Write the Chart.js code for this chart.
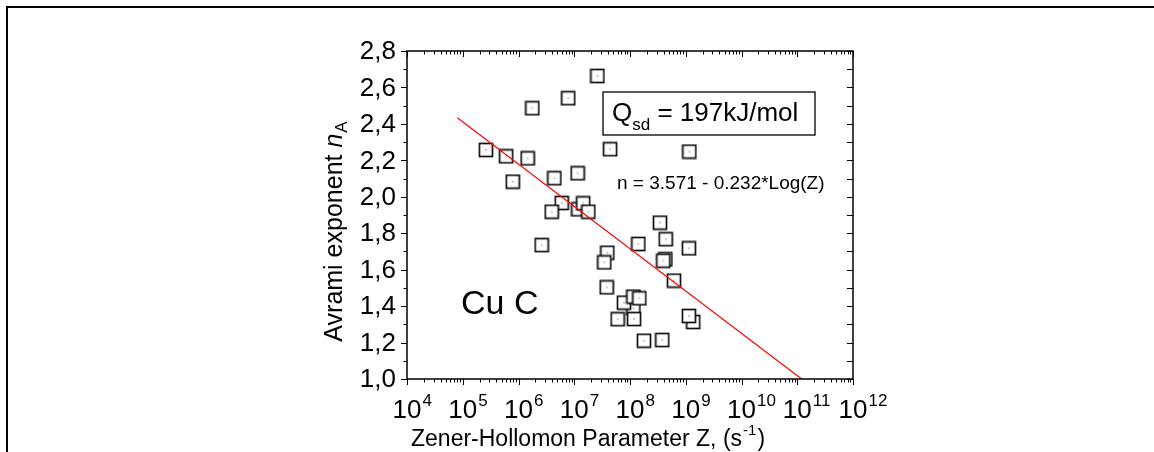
<!DOCTYPE html>
<html>
<head>
<meta charset="utf-8">
<script src="https://cdn.jsdelivr.net/npm/chart.js@4.4.0/dist/chart.umd.min.js"></script>
<style>
    html, body { margin: 0; padding: 0; background: #fff; }
    #wrap { position: relative; width: 1154px; height: 452px; overflow: hidden; }
    #frame { position: absolute; left: 6px; top: 6px; right: -10px; bottom: -10px; border-top: 2px solid #000; border-left: 2px solid #000; }
    canvas { position: absolute; left: 0; top: 0; }
</style>
</head>
<body>
<div id="wrap"><div id="frame"></div><canvas id="c" width="1154" height="452"></canvas></div>
<script>
// ── Data (Cu C, Avrami exponent vs Zener-Hollomon parameter) ─────────────────
const zValues = [
    2.6e5, 6.0e5, 7.9e5, 1.46e6, 1.77e6, 7.8e6, 2.6e7, 4.4e7, 1.16e9,
    4.4e6, 1.15e7, 5.96e6, 3.94e6, 1.18e7, 1.45e7, 1.79e7, 2.6e6,
    3.45e8, 4.37e8, 1.41e8, 1.14e9, 3.92e7, 3.46e7, 4.3e8, 3.95e8,
    6.15e8, 3.82e7, 1.15e8, 7.8e7, 1.15e8, 1.47e8, 6.0e7, 1.18e8,
    1.36e9, 1.14e9, 1.78e8, 3.79e8
];
const nValues = [
    2.257, 2.222, 2.083, 2.211, 2.486, 2.541, 2.663, 2.261, 2.248,
    2.102, 2.129, 1.966, 1.918, 1.931, 1.964, 1.918, 1.735,
    1.858, 1.767, 1.741, 1.717, 1.693, 1.640, 1.657, 1.649,
    1.540, 1.503, 1.388, 1.419, 1.452, 1.443, 1.328, 1.329,
    1.313, 1.346, 1.210, 1.214
];

// fit n = 3.571 - 0.232*Log(Z), end points as drawn
const fitZ = [8.0e4, 1.2e11];
const fitN = [2.434, 1.0];

const xDecades = [4, 5, 6, 7, 8, 9, 10, 11, 12];
const yMajorTicks = [1.0, 1.2, 1.4, 1.6, 1.8, 2.0, 2.2, 2.4, 2.6, 2.8];
const yMinorTicks = [1.1, 1.3, 1.5, 1.7, 1.9, 2.1, 2.3, 2.5, 2.7];
const yTickLabels = ['1,0', '1,2', '1,4', '1,6', '1,8', '2,0', '2,2', '2,4', '2,6', '2,8'];

const FONT = '"Liberation Sans", Arial, sans-serif';

// ── Square marker with centre dot ────────────────────────────────────────────
function makeMarker() {
    const c = document.createElement('canvas');
    c.width = 16; c.height = 16;
    const g = c.getContext('2d');
    g.fillStyle = '#fff';
    g.fillRect(1, 1, 14, 14);
    g.strokeStyle = '#111';
    g.lineWidth = 1.7;
    g.strokeRect(1.5, 1.5, 13, 13);
    g.fillStyle = '#333';
    g.fillRect(7.5, 7.5, 1, 1);
    return c;
}

// ── Axes, ticks and text drawn Origin-style ──────────────────────────────────
const originAxes = {
    id: 'originAxes',
    afterDraw(chart) {
        const { ctx, chartArea: a, scales: { x, y } } = chart;
        ctx.save();
        ctx.strokeStyle = '#000';
        ctx.lineWidth = 1;
        ctx.beginPath();
        xDecades.forEach((e, i) => {
            const px = Math.round(x.getPixelForValue(10 ** e)) + 0.5;
            ctx.moveTo(px, a.bottom); ctx.lineTo(px, a.bottom + 6);
            ctx.moveTo(px, a.top); ctx.lineTo(px, a.top + 6);
            if (i < xDecades.length - 1) {
                for (let m = 2; m <= 9; m++) {
                    const mx = Math.round(x.getPixelForValue(m * 10 ** e)) + 0.5;
                    ctx.moveTo(mx, a.bottom); ctx.lineTo(mx, a.bottom + 3.5);
                    ctx.moveTo(mx, a.top); ctx.lineTo(mx, a.top + 3.5);
                }
            }
        });
        yMajorTicks.forEach(v => {
            const py = Math.round(y.getPixelForValue(v)) + 0.5;
            ctx.moveTo(a.left, py); ctx.lineTo(a.left - 6, py);
            ctx.moveTo(a.right, py); ctx.lineTo(a.right - 6, py);
        });
        yMinorTicks.forEach(v => {
            const py = Math.round(y.getPixelForValue(v)) + 0.5;
            ctx.moveTo(a.left, py); ctx.lineTo(a.left - 3.5, py);
            ctx.moveTo(a.right, py); ctx.lineTo(a.right - 6, py);
        });
        ctx.stroke();

        ctx.lineWidth = 1.5;
        ctx.strokeRect(a.left, a.top, a.right - a.left, a.bottom - a.top);

        ctx.fillStyle = '#000';
        // y tick labels
        ctx.font = `26px ${FONT}`;
        ctx.textAlign = 'right';
        ctx.textBaseline = 'middle';
        yMajorTicks.forEach((v, i) => {
            ctx.fillText(yTickLabels[i], a.left - 11, y.getPixelForValue(v) + 1);
        });
        // x tick labels 10^n
        ctx.textBaseline = 'alphabetic';
        xDecades.forEach(e => {
            const px = x.getPixelForValue(10 ** e);
            ctx.font = `26px ${FONT}`;
            ctx.textAlign = 'center';
            ctx.fillText('10', px, a.bottom + 39);
            const w = ctx.measureText('10').width;
            ctx.font = `17px ${FONT}`;
            ctx.textAlign = 'left';
            ctx.fillText(String(e), px + w / 2 + 1, a.bottom + 27);
        });

        // x title
        ctx.font = `23px ${FONT}`;
        ctx.textAlign = 'left';
        let tx = 411;
        const ty = 446;
        const xt1 = 'Zener-Hollomon Parameter Z, (s';
        ctx.fillText(xt1, tx, ty);
        tx += ctx.measureText(xt1).width;
        ctx.font = `15px ${FONT}`;
        ctx.fillText('-1', tx + 1, ty - 11);
        tx += ctx.measureText('-1').width + 2;
        ctx.font = `23px ${FONT}`;
        ctx.fillText(')', tx, ty);

        // y title (rotated)
        ctx.save();
        ctx.translate(342, 232);
        ctx.rotate(-Math.PI / 2);
        const p1 = 'Avrami exponent ';
        ctx.font = `25px ${FONT}`;
        const w1 = ctx.measureText(p1).width;
        ctx.font = `italic 25px ${FONT}`;
        const w2 = ctx.measureText('n').width;
        ctx.font = `17px ${FONT}`;
        const w3 = ctx.measureText('A').width;
        let sx = -(w1 + w2 + w3) / 2;
        ctx.font = `25px ${FONT}`;
        ctx.fillText(p1, sx, 0);
        sx += w1;
        ctx.font = `italic 25px ${FONT}`;
        ctx.fillText('n', sx, 0);
        sx += w2;
        ctx.font = `17px ${FONT}`;
        ctx.fillText('A', sx + 1, 5);
        ctx.restore();

        // annotation: Q_sd box
        ctx.lineWidth = 1.3;
        ctx.strokeRect(603, 92, 212, 43);
        let qx = 612;
        ctx.font = `26px ${FONT}`;
        ctx.fillText('Q', qx, 121);
        qx += ctx.measureText('Q').width;
        ctx.font = `17px ${FONT}`;
        ctx.fillText('sd', qx, 130);
        qx += ctx.measureText('sd').width;
        ctx.font = `26px ${FONT}`;
        ctx.fillText(' = 197kJ/mol', qx, 121);

        // fit equation and sample label
        ctx.font = `19px ${FONT}`;
        ctx.fillText('n = 3.571 - 0.232*Log(Z)', 617, 189);
        ctx.font = `34px ${FONT}`;
        ctx.fillText('Cu C', 461, 314);
        ctx.restore();
    }
};

// ── Chart ────────────────────────────────────────────────────────────────────
const marker = makeMarker();

new Chart(document.getElementById('c'), {
    type: 'scatter',
    data: {
        datasets: [
            {
                label: 'Linear fit',
                type: 'line',
                data: fitZ.map((z, i) => ({ x: z, y: fitN[i] })),
                borderColor: '#ff0000',
                borderWidth: 1.2,
                pointRadius: 0,
                fill: false
            },
            {
                label: 'Cu C',
                data: zValues.map((z, i) => ({ x: z, y: nValues[i] })),
                pointStyle: marker,
                pointRadius: 8
            }
        ]
    },
    options: {
        responsive: false,
        animation: false,
        events: [],
        layout: { autoPadding: false, padding: { left: 407, right: 301, top: 51, bottom: 73 } },
        plugins: { legend: { display: false }, tooltip: { enabled: false } },
        scales: {
            x: { type: 'logarithmic', min: 1e4, max: 1e12, display: false },
            y: { type: 'linear', min: 1.0, max: 2.8, display: false }
        }
    },
    plugins: [originAxes]
});
</script>
</body>
</html>
